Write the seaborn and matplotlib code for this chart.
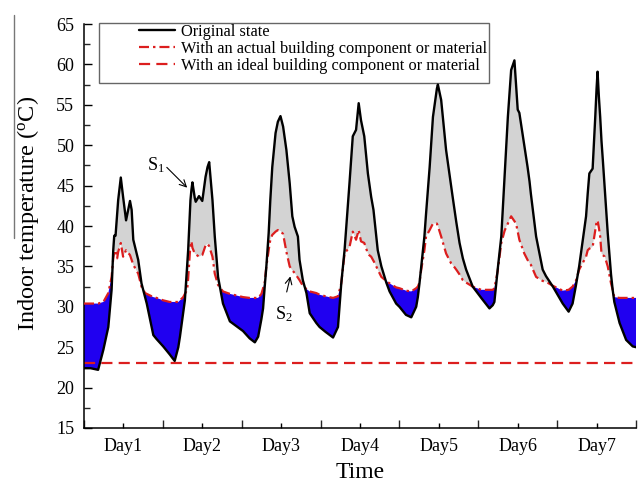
import numpy as np
import pandas as pd
import matplotlib
matplotlib.use("Agg")
import matplotlib.pyplot as plt
import seaborn as sns
from matplotlib.patches import Rectangle
from matplotlib.lines import Line2D
from matplotlib.ticker import MultipleLocator

# ---------------- data (hours from start of Day1) ----------------
hours = [
    0, 2, 4.3, 5.9, 7.4, 8.4, 8.9, 9.2, 9.6, 10.1, 10.4, 11.2, 11.9, 12.8, 14.0, 14.5, 15.0, 16.5, 17.5, 18.6, 19.1, 21.1, 22.1,
    24.1, 26.1, 27.6, 28.7, 29.2, 30.2, 30.7, 31.4, 31.7, 32.2, 32.4, 32.7, 33.0, 33.7, 34.0, 35.0, 36.0, 37.0, 37.6, 38.1, 39.1, 39.8, 40.8, 42.3, 44.4, 46.4,
    48.4, 50.4, 52.0, 53.0, 54.0, 54.5, 55.0, 55.5, 56.2, 56.7, 57.3, 58.3, 59.0, 59.8, 60.6, 61.6, 62.6, 63.4, 64.1, 65.1, 65.6, 66.6, 67.7, 68.7, 70.7,
    71.7, 73.5, 75.8, 77.3, 78.3, 79.3, 80.8, 81.8, 82.8, 83.6, 84.3, 85.3, 86.4, 86.8, 87.4, 88.1, 88.5, 89.4, 90.5, 92.0, 93.0, 95.0,
    96.0, 98.0, 99.6, 101.1, 101.6, 102.1, 102.6, 103.6, 104.1, 105.2, 106.2, 107.4, 107.7, 108.7, 110.2, 111.7, 112.2, 113.3, 114.3, 115.3, 116.3, 118.3,
    120.9, 123.4, 124.4, 124.9, 125.9, 127.0, 128.0, 128.5, 129.0, 130.0, 131.0, 131.5, 132.0, 132.5, 134.0, 135.0, 135.6, 136.0, 137.6, 139.6, 140.6, 142.7,
    145.7, 147.5, 148.7, 149.7, 150.7, 152.8, 153.3, 153.8, 154.8, 155.6, 156.0, 156.3, 156.7, 157.1, 157.5, 157.9, 158.5, 159.4, 160.4, 160.9, 161.4, 163.0, 165.0, 167.0, 168.0,
]

original_temp = [
    22.4, 22.4, 22.2, 24.7, 27.5, 32.1, 37.0, 38.8, 38.8, 41.5, 43.2, 46.0, 43.6, 40.7, 43.1, 42.0, 38.3, 35.8, 32.9, 31.2, 30.4, 26.5, 26.0,
    25.1, 24.1, 23.3, 25.0, 26.3, 29.3, 30.8, 35.0, 37.0, 41.5, 43.2, 44.5, 45.4, 43.5, 43.0, 43.7, 43.1, 46.1, 47.3, 47.9, 43.2, 38.7, 33.7, 30.4, 28.2, 27.6,
    27.0, 26.1, 25.6, 26.3, 28.5, 29.8, 32.5, 35.0, 39.1, 43.2, 47.3, 51.5, 52.9, 53.6, 52.3, 49.4, 45.3, 41.2, 39.9, 38.7, 35.8, 33.3, 31.7, 29.2, 28.0,
    27.5, 26.9, 26.2, 27.5, 32.9, 37.0, 45.3, 51.1, 51.9, 55.2, 53.1, 51.1, 46.5, 45.3, 43.6, 42.0, 40.5, 37.0, 35.0, 33.0, 31.9, 30.4,
    30.0, 29.0, 28.7, 30.0, 31.2, 32.9, 34.8, 38.7, 41.5, 47.3, 53.5, 57.0, 57.5, 55.6, 49.4, 45.0, 43.6, 40.5, 37.9, 36.0, 34.6, 32.5,
    31.1, 29.8, 30.2, 30.6, 34.6, 38.7, 46.1, 49.8, 53.5, 59.3, 60.5, 57.5, 54.4, 54.0, 50.0, 47.3, 45.5, 44.0, 38.7, 34.6, 33.8, 32.5,
    30.4, 29.4, 30.4, 32.6, 35.0, 41.2, 44.0, 46.5, 47.1, 53.5, 57.0, 59.1, 56.0, 53.5, 50.5, 48.2, 44.5, 39.1, 34.0, 32.1, 30.6, 28.0, 25.9, 25.1, 25.0,
]

actual_temp = [
    30.4, 30.4, 30.4, 30.6, 31.7, 33.7, 36.0, 36.8, 37.0, 36.0, 36.8, 37.9, 36.2, 37.0, 36.4, 35.8, 35.2, 34.1, 32.5, 31.7, 31.6, 31.2, 31.1,
    30.8, 30.6, 30.6, 30.6, 30.8, 31.2, 31.6, 32.1, 33.5, 36.6, 37.5, 38.1, 37.3, 36.6, 36.5, 36.2, 36.4, 37.6, 37.8, 37.5, 36.2, 34.1, 32.7, 31.9, 31.6, 31.4,
    31.2, 31.1, 31.1, 31.1, 31.6, 32.3, 33.0, 35.0, 37.0, 38.3, 38.9, 39.3, 39.5, 39.4, 39.0, 36.8, 35.0, 34.5, 34.2, 33.6, 33.3, 32.6, 32.2, 31.9, 31.7,
    31.5, 31.3, 31.1, 31.3, 32.9, 36.6, 37.4, 39.3, 38.3, 39.5, 38.1, 37.9, 36.6, 36.4, 36.2, 35.7, 35.4, 34.6, 33.7, 33.2, 32.9, 32.4,
    32.3, 32.0, 31.9, 32.3, 32.5, 33.0, 34.5, 37.0, 38.7, 39.5, 40.3, 40.3, 40.0, 38.7, 36.6, 35.4, 35.2, 34.6, 34.0, 33.3, 33.0, 32.5,
    32.1, 32.1, 32.1, 32.3, 34.4, 37.9, 39.4, 39.9, 40.3, 41.2, 40.6, 40.3, 39.3, 38.3, 36.6, 35.8, 35.4, 35.2, 33.7, 33.2, 33.1, 32.6,
    32.0, 32.1, 32.5, 33.2, 34.6, 36.2, 37.0, 37.2, 37.4, 39.5, 40.5, 40.7, 39.8, 38.7, 36.6, 36.4, 36.2, 35.0, 32.9, 32.1, 31.2, 31.1, 31.1, 31.1, 31.1,
]

ideal_hours = [0, 168]
ideal_temp = [23.0, 23.0]

day_labels = ["Day1", "Day2", "Day3", "Day4", "Day5", "Day6", "Day7"]
series_names = ["Original state",
                "With an actual building component or material",
                "With an ideal building component or material"]

assert len(hours) == len(original_temp) == len(actual_temp)

# ---------------- style ----------------
sns.set_theme(style="ticks")
plt.rcParams["font.family"] = ["Liberation Serif", "DejaVu Serif"]
plt.rcParams["mathtext.fontset"] = "custom"
plt.rcParams["mathtext.rm"] = "Liberation Serif"
plt.rcParams["mathtext.it"] = "Liberation Serif:italic"

RED = "#dc1e1e"
BLUE = "#2000f0"
GREY = "#d3d3d3"

fig = plt.figure(figsize=(6.38, 4.87), dpi=100)
ax = fig.add_axes([84 / 638, 1 - 428 / 487, 552 / 638, 404 / 487])

x = np.array(hours)
b = np.array(original_temp)
r = np.array(actual_temp)

ax.fill_between(x, b, r, where=b >= r, interpolate=True, color=GREY, lw=0, zorder=1)
ax.fill_between(x, b, r, where=b < r, interpolate=True, color=BLUE, lw=0, zorder=1)

df_orig = pd.DataFrame({"h": hours, "t": original_temp})
df_act = pd.DataFrame({"h": hours, "t": actual_temp})
df_ideal = pd.DataFrame({"h": ideal_hours, "t": ideal_temp})

sns.lineplot(data=df_ideal, x="h", y="t", ax=ax, color=RED, lw=1.6,
             label=series_names[2], zorder=2)
sns.lineplot(data=df_act, x="h", y="t", ax=ax, color=RED, lw=1.6,
             label=series_names[1], zorder=3)
sns.lineplot(data=df_orig, x="h", y="t", ax=ax, color="black", lw=1.7,
             label=series_names[0], zorder=4)

lines = ax.get_lines()
ideal_line, act_line, orig_line = lines[0], lines[1], lines[2]
ideal_line.set_dashes((5, 2.8))
act_line.set_dashes((4.5, 1.8, 1.1, 1.8))
for ln in lines:
    ln.set_solid_joinstyle("round")
    ln.set_dash_joinstyle("round")

# ---------------- axes ----------------
ax.set_xlim(0, 168)
ax.set_ylim(15, 65)
ax.yaxis.set_major_locator(MultipleLocator(5))
ax.yaxis.set_minor_locator(MultipleLocator(2.5))
ax.set_xticks(np.arange(0, 169, 24))
ax.set_xticklabels([])
ax.set_xticks(np.arange(12, 168, 24), minor=True)
ax.set_xticklabels(day_labels, minor=True)

for s in ["top", "right"]:
    ax.spines[s].set_visible(False)
for s in ["left", "bottom"]:
    ax.spines[s].set_linewidth(1.1)
    ax.spines[s].set_color("black")

ax.tick_params(axis="y", which="major", direction="in", length=5.5, width=1.0,
               labelsize=13, pad=7, colors="black")
ax.tick_params(axis="y", which="minor", direction="in", length=4.5, width=1.0)
ax.tick_params(axis="x", which="major", direction="in", length=6, width=1.0, pad=7)
ax.tick_params(axis="x", which="minor", direction="in", length=3.5, width=1.0,
               labelsize=13, pad=7, colors="black")

ax.set_xlabel("Time", fontsize=17, labelpad=5, color="black")
ax.set_ylabel("Indoor temperature ($^{\\mathrm{o}}$C)", fontsize=17.5, color="black")
ax.yaxis.set_label_coords(-0.078, 0.53)

# ---------------- legend ----------------
handles = [orig_line, act_line, ideal_line]
leg = ax.legend(handles, series_names, loc="upper left",
                bbox_to_anchor=(0.0996, 1.0), frameon=False, fontsize=11.8,
                handlelength=2.2, handletextpad=0.37, labelspacing=0.06,
                borderpad=0, borderaxespad=0)
for t in leg.get_texts():
    t.set_color("black")
frame = Rectangle((0.0272, 0.854), 0.7337 - 0.0272, 1.0025 - 0.854,
                  transform=ax.transAxes, facecolor="white", edgecolor="#666666",
                  lw=1.0, clip_on=False, zorder=0.5)
ax.add_patch(frame)

# ---------------- annotations ----------------
ax.text(19.2, 46.9, "S$_{\\mathrm{1}}$", fontsize=13, ha="left", va="baseline", color="black")
ax.annotate("", xy=(32.0, 44.5), xytext=(24.6, 47.5),
            arrowprops=dict(arrowstyle="->,head_length=0.4,head_width=0.2", lw=0.8, color="black"))
ax.text(58.1, 28.4, "S$_{\\mathrm{2}}$", fontsize=13, ha="left", va="baseline", color="black")
ax.annotate("", xy=(63.0, 34.1), xytext=(61.5, 31.5),
            arrowprops=dict(arrowstyle="->,head_length=0.4,head_width=0.2", lw=0.8, color="black"))

# stray vertical rule at the far left of the reference
fig.add_artist(Line2D([14 / 638, 14 / 638], [1 - 15 / 487, 1 - 238 / 487],
                      transform=fig.transFigure, color="#777777", lw=1.0))

fig.savefig("out.png", dpi=100)
